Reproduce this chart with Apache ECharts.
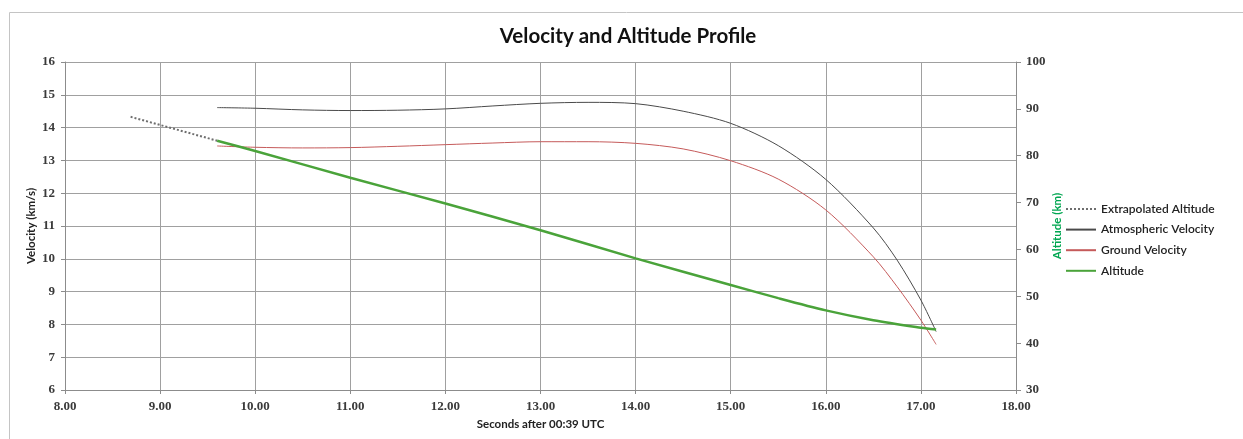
<!DOCTYPE html>
<html>
<head>
<meta charset="utf-8">
<script src="https://cdn.jsdelivr.net/npm/echarts@6/dist/echarts.min.js"></script>
<style>
  html, body { margin: 0; padding: 0; background: #fff; }
  #chart { width: 1243px; height: 439px; }
</style>
</head>
<body>
<div id="chart"></div>
<script>
// values
const extrapTime = [8.69, 9.6];
const extrapAlt = [88.3, 83.2];

const altTime = [9.6, 10, 11, 12, 13, 14, 15, 15.5, 16, 16.5, 17, 17.16];
const altKm = [83.2, 81.0, 75.3, 69.8, 64.1, 58.1, 52.4, 49.6, 47.0, 44.9, 43.3, 42.9];

const velTime = [9.6, 10, 10.5, 11, 11.5, 12, 12.5, 13, 13.5, 14, 14.5, 15, 15.5, 16, 16.5, 16.75, 17, 17.16];
const atmVel = [14.61, 14.59, 14.54, 14.52, 14.53, 14.57, 14.66, 14.74, 14.77, 14.73, 14.5, 14.13, 13.45, 12.42, 10.94, 9.96, 8.74, 7.78];
const groundVel = [13.44, 13.40, 13.38, 13.39, 13.43, 13.48, 13.53, 13.57, 13.57, 13.52, 13.35, 12.99, 12.43, 11.49, 10.06, 9.15, 8.13, 7.39];

const pairs = (xs, ys) => xs.map((x, i) => [x, ys[i]]);

const tickFont = { fontFamily: 'Liberation Serif', fontWeight: 'bold', fontSize: 13, color: '#3a3a3a' };
const nameFont = { fontFamily: 'Lato', fontWeight: 'bold', fontSize: 11.5, color: '#222' };
const gridLine = { show: true, lineStyle: { color: '#a0a0a0', width: 1 } };

const chart = echarts.init(document.getElementById('chart'));
chart.setOption({
  animation: false,
  title: {
    text: 'Velocity and Altitude Profile',
    left: 623, top: 21, textAlign: 'center',
    textStyle: { fontFamily: 'Lato', fontWeight: 'bold', fontSize: 20.5, color: '#111' }
  },
  graphic: [{
    type: 'rect', left: 7, top: 10, silent: true,
    shape: { width: 1234, height: 440 },
    style: { fill: 'none', stroke: '#c4c4c4', lineWidth: 1 }
  }],
  legend: {
    orient: 'vertical', left: 1060, top: 198,
    itemWidth: 30, itemHeight: 14, itemGap: 8.6,
    itemStyle: { opacity: 0 },
    textStyle: { fontFamily: 'Lato', fontSize: 12, color: '#222', fontWeight: 600 },
    data: ['Extrapolated Altitude', 'Atmospheric Velocity', 'Ground Velocity', 'Altitude']
  },
  grid: { left: 65, right: 227, top: 62, bottom: 49 },
  xAxis: {
    type: 'value', min: 8, max: 18, interval: 1,
    name: 'Seconds after 00:39 UTC', nameLocation: 'middle', nameGap: 28,
    nameTextStyle: nameFont,
    axisLine: { lineStyle: { color: '#8c8c8c' } },
    axisTick: { show: true, length: 4, lineStyle: { color: '#8c8c8c' } },
    axisLabel: Object.assign({ margin: 10, formatter: v => v.toFixed(2) }, tickFont),
    splitLine: gridLine
  },
  yAxis: [{
    type: 'value', min: 6, max: 16, interval: 1, position: 'left',
    name: 'Velocity (km/s)', nameLocation: 'middle', nameGap: 28, nameMoveOverlap: false,
    nameTextStyle: nameFont,
    axisLine: { show: true, lineStyle: { color: '#8c8c8c' } },
    axisTick: { show: true, length: 4, lineStyle: { color: '#8c8c8c' } },
    axisLabel: Object.assign({ margin: 10 }, tickFont),
    splitLine: gridLine
  }, {
    type: 'value', min: 30, max: 100, interval: 10, position: 'right',
    name: 'Altitude (km)', nameLocation: 'middle', nameGap: 35, nameMoveOverlap: false,
    nameTextStyle: Object.assign({}, nameFont, { color: '#00a651' }),
    axisLine: { show: true, lineStyle: { color: '#8c8c8c' } },
    axisTick: { show: true, length: 5, lineStyle: { color: '#8c8c8c' } },
    axisLabel: Object.assign({ margin: 10 }, tickFont),
    splitLine: { show: false }
  }],
  series: [{
    name: 'Extrapolated Altitude', type: 'line', yAxisIndex: 1,
    symbol: 'none', data: pairs(extrapTime, extrapAlt),
    lineStyle: { color: '#6e6e6e', width: 2, type: [2, 2] },
    itemStyle: { color: '#6e6e6e' }
  }, {
    name: 'Atmospheric Velocity', type: 'line', yAxisIndex: 0,
    symbol: 'none', smooth: 0.3, data: pairs(velTime, atmVel),
    lineStyle: { color: '#4a4a4a', width: 1 },
    itemStyle: { color: '#4a4a4a' }
  }, {
    name: 'Ground Velocity', type: 'line', yAxisIndex: 0,
    symbol: 'none', smooth: 0.3, data: pairs(velTime, groundVel),
    lineStyle: { color: '#c55a5a', width: 1 },
    itemStyle: { color: '#c55a5a' }
  }, {
    name: 'Altitude', type: 'line', yAxisIndex: 1,
    symbol: 'none', smooth: 0.3, data: pairs(altTime, altKm),
    lineStyle: { color: '#4aa33a', width: 2.5 },
    itemStyle: { color: '#4aa33a' }
  }]
});
</script>
</body>
</html>
